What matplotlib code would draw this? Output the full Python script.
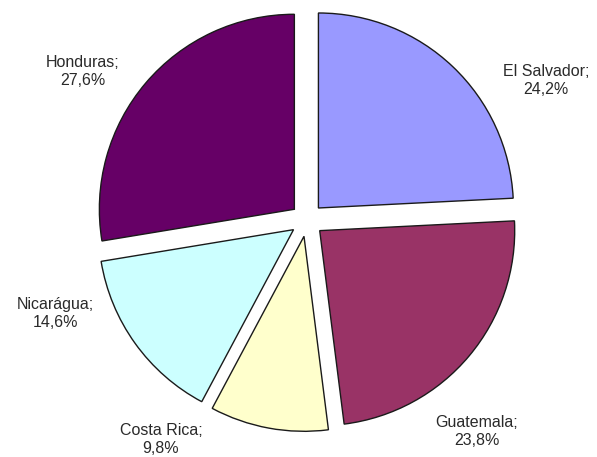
import matplotlib.pyplot as plt

paises = ['El Salvador', 'Guatemala', 'Costa Rica', 'Nicarágua', 'Honduras']
valores = [24.2, 23.8, 9.8, 14.6, 27.6]
cores = ['#9999FF', '#993366', '#FFFFCC', '#CCFFFF', '#660066']

# onde fica cada rótulo (raio da pizza = 1)
pos_rotulos = [(1.226, 0.713), (0.872, -1.087), (-0.749, -1.125),
               (-1.292, -0.482), (-1.149, 0.764)]

fig = plt.figure(figsize=(5.97, 4.57), dpi=100)
ax = fig.add_axes([0, 0, 1, 1])

ax.pie(valores, colors=cores, startangle=90, counterclock=False,
       explode=[0.085] * len(valores), radius=1,
       wedgeprops={'edgecolor': '#1a1a1a', 'linewidth': 1.0})

for nome, v, (x, y) in zip(paises, valores, pos_rotulos):
    txt = '{};\n{:.1f}%'.format(nome, v).replace('.', ',')
    ax.text(x, y, txt, ha='center', va='center', fontsize=11.5,
            family='Liberation Sans', color='#2a2a2a', linespacing=1.25)

ax.set_xlim(-307 / 195, 290 / 195)
ax.set_ylim(-237 / 195, 220 / 195)
ax.set_aspect('equal')
ax.axis('off')

fig.savefig('out.png', dpi=100)
